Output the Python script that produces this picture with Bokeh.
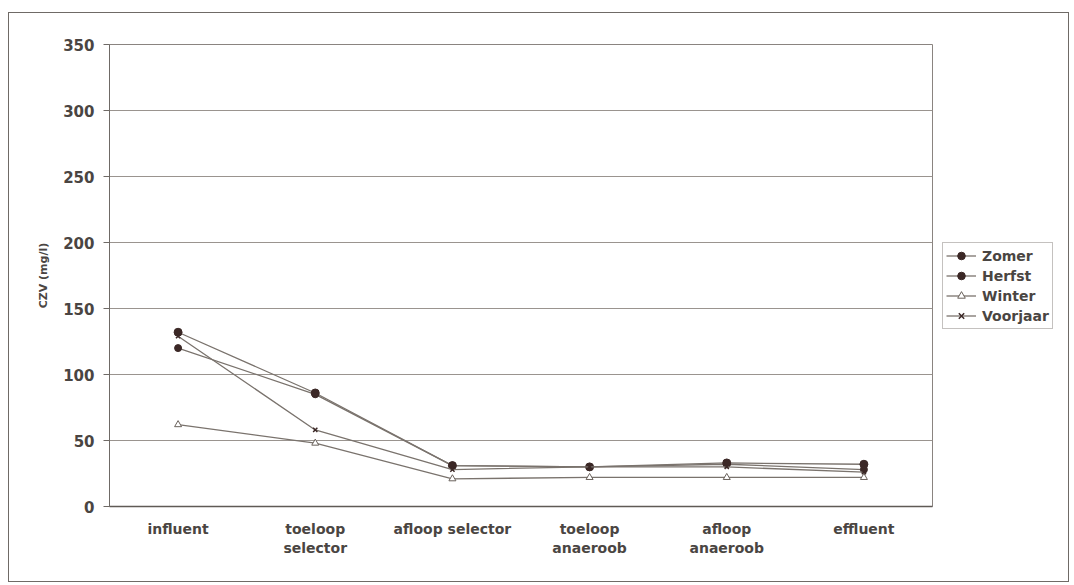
from bokeh.plotting import figure
from bokeh.layouts import row
from bokeh.models import (FactorRange, Range1d, Legend, LegendItem,
                          FixedTicker, ColumnDataSource)
from bokeh.embed import file_html
from bokeh.resources import INLINE

# Sampling points along the treatment line
categories = ["influent", "toeloop\nselector", "afloop selector",
              "toeloop\nanaeroob", "afloop\nanaeroob", "effluent"]

# COD (CZV) per season, mg/l
zomer = [120, 85, 31, 30, 32, 28]
herfst = [132, 86, 31, 30, 33, 32]
winter = [62, 48, 21, 22, 22, 22]
voorjaar = [129, 58, 28, 30, 30, 26]

y_ticks = [0, 50, 100, 150, 200, 250, 300, 350]

FONT = "DejaVu Sans"
TEXT = "#4a4542"
LINE = "#7a736d"
MARK = "#3b2826"

src = ColumnDataSource(dict(x=categories, zomer=zomer, herfst=herfst,
                            winter=winter, voorjaar=voorjaar))

# Series styling shared by the chart and the legend panel
series = [
    ("Zomer", "zomer", dict(marker="circle", size=7, fill_color=MARK, line_color=MARK)),
    ("Herfst", "herfst", dict(marker="circle", size=8, fill_color=MARK, line_color=MARK)),
    ("Winter", "winter", dict(marker="triangle", size=7, fill_color="white",
                              line_color="#6a625c", line_width=1)),
    ("Voorjaar", "voorjaar", dict(marker="x", size=6, line_color=MARK, line_width=1.5)),
]

p = figure(frame_width=823, frame_height=462, x_range=FactorRange(*categories),
           y_range=Range1d(0, 350), output_backend="svg", toolbar_location=None,
           min_border_left=100, min_border_right=3, min_border_top=31,
           min_border_bottom=75)
p.background_fill_color = "white"
p.border_fill_color = "white"
p.outline_line_color = "#8a8480"
p.outline_line_width = 1

# Axes
p.yaxis.ticker = FixedTicker(ticks=y_ticks)
p.yaxis.axis_line_color = "#6f6a66"
p.yaxis.major_tick_line_color = "#6f6a66"
p.yaxis.major_tick_out = 6
p.yaxis.major_tick_in = 0
p.yaxis.minor_tick_line_color = None
p.yaxis.major_label_text_font = FONT
p.yaxis.major_label_text_font_size = "15px"
p.yaxis.major_label_text_font_style = "bold"
p.yaxis.major_label_text_color = TEXT
p.yaxis.major_label_standoff = 9
p.yaxis.axis_label = "CZV (mg/l)"
p.yaxis.axis_label_text_font = FONT
p.yaxis.axis_label_text_font_size = "11px"
p.yaxis.axis_label_text_font_style = "bold"
p.yaxis.axis_label_text_color = TEXT
p.yaxis.axis_label_standoff = 10

p.xaxis.axis_line_color = "#5f5a56"
p.xaxis.axis_line_width = 1.5
p.xaxis.major_tick_line_color = None
p.xaxis.minor_tick_line_color = None
p.xaxis.major_label_text_font = FONT
p.xaxis.major_label_text_font_size = "14px"
p.xaxis.major_label_text_font_style = "bold"
p.xaxis.major_label_text_color = TEXT
p.xaxis.major_label_standoff = 8

p.xgrid.grid_line_color = None
p.ygrid.grid_line_color = "#9a948f"
p.ygrid.grid_line_width = 1

for label, col, mk in series:
    p.line("x", col, source=src, line_color=LINE, line_width=1.3)
    p.scatter("x", col, source=src, **mk)

# Narrow panel to the right that carries the legend
lg = figure(width=133, height=568, x_range=FactorRange(*categories),
            y_range=Range1d(0, 350), output_backend="svg", toolbar_location=None,
            min_border=0, x_axis_type=None, y_axis_type=None)
lg.outline_line_color = None
lg.grid.grid_line_color = None
lg.background_fill_color = "white"
lg.border_fill_color = "white"

items = []
for label, col, mk in series:
    l = lg.line("x", col, source=src, line_color=LINE, line_width=1.3, visible=False)
    m = lg.scatter("x", col, source=src, visible=False, **mk)
    items.append(LegendItem(label=label, renderers=[l, m]))

legend = Legend(items=items, location=(7, 177))
legend.label_text_font = FONT
legend.label_text_font_size = "14px"
legend.label_text_font_style = "bold"
legend.label_text_color = TEXT
legend.border_line_color = "#8a8480"
legend.border_line_width = 1
legend.background_fill_color = "white"
legend.inactive_fill_alpha = 0
legend.glyph_width = 30
legend.glyph_height = 19
legend.label_standoff = 6
legend.label_height = 19
legend.spacing = 1
legend.padding = 3
legend.margin = 0
lg.add_layout(legend, "center")

layout = row(p, lg, spacing=0)
layout.margin = (12, 0, 0, 8)
layout.styles = {"border": "1.5px solid #6f6a66"}

open("out.html", "w").write(file_html(layout, INLINE))
